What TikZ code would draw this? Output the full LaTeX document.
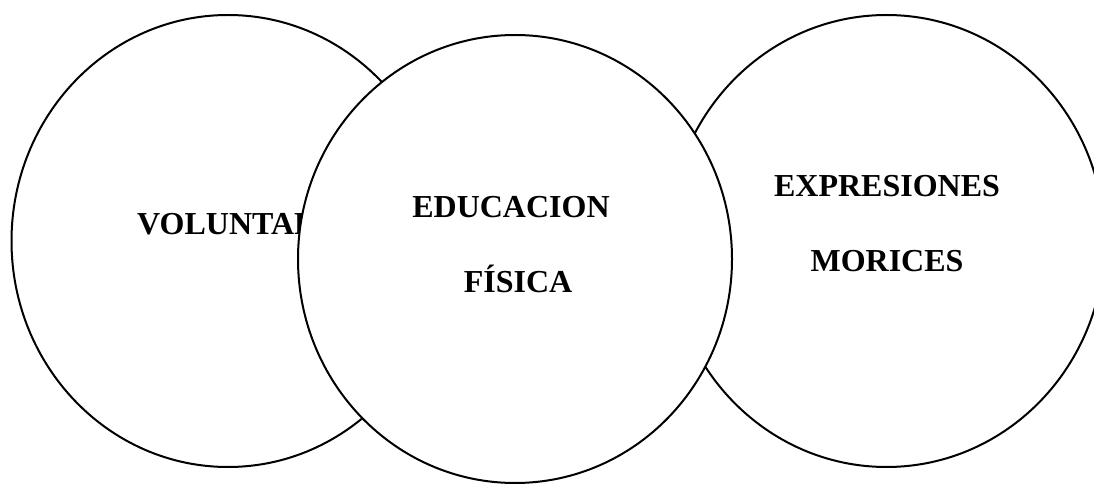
\documentclass[tikz,border=0pt]{standalone}
\usepackage{fontspec}
\setmainfont{Liberation Serif}
\usepackage{tikz}
\tikzset{
	label text/.style={font=\bfseries\fontsize{32}{38}\selectfont, inner sep=0pt},
	ring/.style={line width=2pt, draw=black, fill=white}
}

\begin{document}
\begin{tikzpicture}[x=1pt, y=1pt]
			%%%%% START %%%%%
			\useasboundingbox (0, 0) rectangle (1094, 485);
			
			\draw[ring] (228, 244) ellipse (216.5 and 226);
			\node[label text, anchor=base west] (volunt) at (137, 250) {VOLUNTARIADO};
			
			\draw[ring] (886.5, 244) ellipse (218 and 226);
			\node[label text, anchor=base] (expres) at (887, 288) {EXPRESIONES};
			\node[label text, anchor=base] (moric) at (887, 213) {MORICES};
			
			\draw[ring] (515, 226) ellipse (217 and 224);
			\node[label text, anchor=base] (educ) at (511, 267) {EDUCACION};
			\node[label text, anchor=base] (fisic) at (518, 193) {FÍSICA};
			
			%%%%% END %%%%%
		\end{tikzpicture}
\end{document}
